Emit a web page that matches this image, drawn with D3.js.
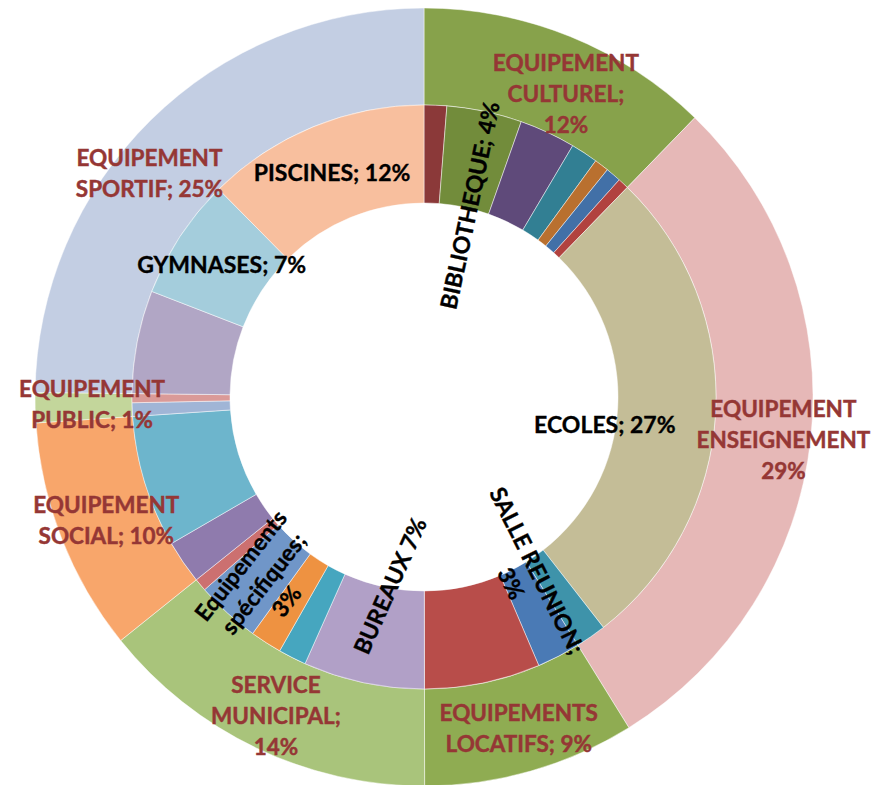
<!DOCTYPE html>
<html>
<head>
<meta charset="utf-8">
<script src="https://cdn.jsdelivr.net/npm/d3@7"></script>
<style>
  html, body { margin: 0; padding: 0; background: #fff; overflow: hidden; }
  svg text { font-family: "Lato", "Liberation Sans", sans-serif; font-weight: bold; }
</style>
</head>
<body>
<svg id="chart" width="879" height="785"></svg>
<script>
// anneau extérieur : familles d'équipements
var groups = ["CULTUREL", "ENSEIGNEMENT", "LOCATIFS", "MUNICIPAL", "SOCIAL", "PUBLIC", "SPORTIF"];
var groupLabels = [
    ["EQUIPEMENT", "CULTUREL;", "12%"],
    ["EQUIPEMENT", "ENSEIGNEMENT", "29%"],
    ["EQUIPEMENTS", "LOCATIFS; 9%"],
    ["SERVICE", "MUNICIPAL;", "14%"],
    ["EQUIPEMENT", "SOCIAL; 10%"],
    ["EQUIPEMENT", "PUBLIC; 1%"],
    ["EQUIPEMENT", "SPORTIF; 25%"]
];
var groupColors = ["#87A24B", "#E6B8B7", "#8FAC52", "#A9C47B", "#F8A66B", "#C3D69B", "#C3CEE3"];

// anneau intérieur : détail par type (en %)
var itemGroups = ["CULTUREL", "CULTUREL", "CULTUREL", "CULTUREL", "CULTUREL", "CULTUREL", "CULTUREL",
    "ENSEIGNEMENT", "ENSEIGNEMENT",
    "LOCATIFS", "LOCATIFS",
    "MUNICIPAL", "MUNICIPAL", "MUNICIPAL", "MUNICIPAL", "MUNICIPAL",
    "SOCIAL", "SOCIAL",
    "PUBLIC", "PUBLIC",
    "SPORTIF", "SPORTIF", "SPORTIF"];
var itemValues = [1.25, 4.15, 3.1, 1.5, 0.8, 0.85, 0.6,
    27.2, 1.7,
    2.4, 6.4,
    6.7, 1.55, 1.75, 3.55, 0.7,
    2.4, 7.3,
    0.75, 0.5,
    5.7, 6.7, 12.4];
var itemLabels = [[], ["BIBLIOTHEQUE; 4%"], [], [], [], [], [],
    ["ECOLES; 27%"], [],
    ["SALLE REUNION;", "3%"], [],
    ["BUREAUX 7%"], [], [], ["Equipements", "spécifiques;", "3%"], [],
    [], [],
    [], [],
    [], ["GYMNASES; 7%"], ["PISCINES; 12%"]];
var itemColors = ["#8B3939", "#728C3B", "#5F4A7A", "#327F93", "#B9702F", "#4270A7", "#B1423F",
    "#C4BD97", "#3E93AA",
    "#4A7AB5", "#B84D4A",
    "#B1A0C7", "#46A6BF", "#EE9241", "#7096C8", "#CC7070",
    "#8F7BAD", "#6DB5CC",
    "#A0B5D6", "#DA9A98",
    "#B1A6C5", "#A4CDDC", "#F8BF9E"];

// placement des étiquettes (décalage d'angle en degrés, rayon, rotation)
var outerLabelPos = {
    CULTUREL: { da: 3, r: 335 }, ENSEIGNEMENT: { da: 0.7, r: 362 }, LOCATIFS: { da: 0, r: 345 },
    MUNICIPAL: { da: -0.7, r: 352 }, SOCIAL: { da: 0, r: 341 }, PUBLIC: { da: 0.3, r: 332 },
    SPORTIF: { da: -6.2, r: 354 }
};
var innerLabelPos = {
    1: { da: 1.5, r: 197, rot: -78 }, 7: { da: 5.7, r: 183, rot: 0 }, 9: { da: -1.6, r: 206, rot: 63.4 },
    11: { da: -1.8, r: 192, rot: -66 }, 14: { da: -1.6, r: 246, rot: -52 },
    21: { da: 0, r: 242, rot: 0 }, 22: { da: 0, r: 242, rot: 0 }
};

var svg = d3.select("#chart");
var cx = 424, cy = 397;
var rHole = 194, rMid = 292, rOuter = 389;

var groupData = groups.map(function (g, i) {
    return {
        name: g,
        value: d3.sum(itemValues.filter(function (v, j) { return itemGroups[j] === g; })),
        label: groupLabels[i],
        color: groupColors[i]
    };
});
var itemData = itemValues.map(function (v, i) {
    return { idx: i, value: v, label: itemLabels[i], color: itemColors[i] };
});

var pie = d3.pie().sort(null).value(function (d) { return d.value; });
var outerArc = d3.arc().innerRadius(rMid).outerRadius(rOuter);
var innerArc = d3.arc().innerRadius(rHole).outerRadius(rMid);

var g = svg.append("g").attr("transform", "translate(" + cx + "," + cy + ")");

g.append("g").selectAll("path").data(pie(groupData)).enter()
    .append("path")
    .attr("d", outerArc)
    .attr("fill", function (d) { return d.data.color; })
    .attr("stroke", "#fff")
    .attr("stroke-opacity", 0.6)
    .attr("stroke-width", 0.8);

var innerArcs = pie(itemData);
g.append("g").selectAll("path").data(innerArcs).enter()
    .append("path")
    .attr("d", innerArc)
    .attr("fill", function (d) { return d.data.color; })
    .attr("stroke", "#fff")
    .attr("stroke-opacity", 0.6)
    .attr("stroke-width", 0.8);

function polar(angleRad, r) {
    return [r * Math.sin(angleRad), -r * Math.cos(angleRad)];
}

// étiquettes extérieures
var lhOuter = 31;
pie(groupData).forEach(function (d) {
    var pos = outerLabelPos[d.data.name];
    var mid = (d.startAngle + d.endAngle) / 2 + pos.da * Math.PI / 180;
    var p = polar(mid, pos.r);
    var lines = d.data.label;
    var t = g.append("text")
        .attr("x", p[0]).attr("y", p[1])
        .attr("text-anchor", "middle")
        .attr("font-size", 22.5)
        .attr("fill", "#953735")
        .attr("stroke", "#953735")
        .attr("stroke-width", 0.45);
    lines.forEach(function (line, k) {
        t.append("tspan")
            .attr("x", p[0])
            .attr("y", p[1] + (k - (lines.length - 1) / 2) * lhOuter)
            .attr("dy", "0.36em")
            .text(line);
    });
});

// étiquettes intérieures
var lhInner = 29;
innerArcs.forEach(function (d) {
    var lines = d.data.label;
    if (!lines.length) return;
    var pos = innerLabelPos[d.data.idx];
    var mid = (d.startAngle + d.endAngle) / 2 + pos.da * Math.PI / 180;
    var p = polar(mid, pos.r);
    var t = g.append("text")
        .attr("transform", "translate(" + p[0] + "," + p[1] + ") rotate(" + pos.rot + ")")
        .attr("text-anchor", "middle")
        .attr("font-size", 23)
        .attr("fill", "#000")
        .attr("stroke", "#000")
        .attr("stroke-width", 0.35);
    lines.forEach(function (line, k) {
        t.append("tspan")
            .attr("x", 0)
            .attr("y", (k - (lines.length - 1) / 2) * lhInner)
            .attr("dy", "0.36em")
            .text(line);
    });
});
</script>
</body>
</html>
